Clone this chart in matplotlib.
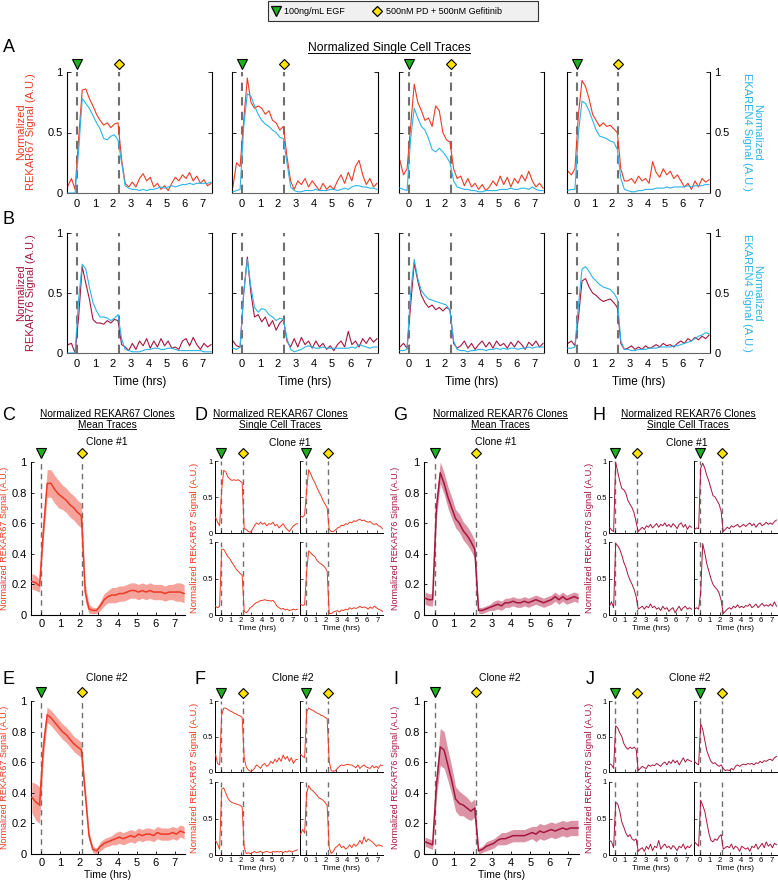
import numpy as np
import matplotlib
matplotlib.use('Agg')
import matplotlib.pyplot as plt
import matplotlib.transforms as mtransforms
from matplotlib.lines import Line2D
from matplotlib.patches import Rectangle

plt.rcParams['font.family'] = ['Liberation Sans', 'DejaVu Sans']

W, H = 778, 881

# sampling times (hrs), one point every 0.2 h
t = np.round(np.linspace(-0.5, 7.5, 41), 2)

EGF_T = 0.0
PD_T_A = 2.33   # inhibitor time in panels A/B
PD_T_C = 2.15   # inhibitor time in panels C-J

legend_labels = ['100ng/mL EGF', '500nM PD + 500nM Gefitinib']

# ---- A: REKAR67 (red) + EKAREN4 (cyan), single cells ----
a1_rekar67 = [0.06, 0.12, 0.03, 0.45, 0.85, 0.86, 0.78, 0.72, 0.65, 0.60, 0.56, 0.58, 0.54, 0.57, 0.58, 0.28, 0.08,
              0.05, 0.09, 0.05, 0.12, 0.16, 0.10, 0.13, 0.05, 0.08, 0.03, 0.06, 0.02, 0.08, 0.13, 0.10, 0.15, 0.12, 0.17, 0.10, 0.14, 0.08, 0.11, 0.06, 0.08]
a1_ekaren4 = [0.00, 0.00, 0.00, 0.35, 0.78, 0.74, 0.70, 0.64, 0.58, 0.53, 0.45, 0.44, 0.47, 0.48, 0.44, 0.25, 0.06,
              0.04, 0.03, 0.03, 0.02, 0.03, 0.02, 0.03, 0.03, 0.04, 0.05, 0.04, 0.05, 0.06, 0.05, 0.06, 0.07, 0.07, 0.08, 0.07, 0.08, 0.08, 0.08, 0.08, 0.09]
a2_rekar67 = [0.05, 0.25, 0.22, 0.60, 0.95, 0.75, 0.70, 0.72, 0.70, 0.65, 0.68, 0.60, 0.58, 0.52, 0.55, 0.30, 0.10,
              0.03, 0.10, 0.07, 0.12, 0.05, 0.10, 0.06, 0.02, 0.08, 0.03, 0.06, 0.03, 0.10, 0.15, 0.08, 0.17, 0.10, 0.22, 0.27, 0.15, 0.07, 0.12, 0.05, 0.08]
a2_ekaren4 = [0.01, 0.02, 0.03, 0.55, 0.82, 0.80, 0.72, 0.65, 0.60, 0.57, 0.55, 0.52, 0.50, 0.46, 0.45, 0.25, 0.05,
              0.02, 0.01, 0.01, 0.02, 0.02, 0.02, 0.03, 0.02, 0.02, 0.02, 0.03, 0.03, 0.02, 0.03, 0.04, 0.03, 0.05, 0.06, 0.06, 0.05, 0.05, 0.04, 0.04, 0.03]
a3_rekar67 = [0.27, 0.15, 0.20, 0.55, 0.90, 0.75, 0.68, 0.60, 0.62, 0.55, 0.72, 0.68, 0.50, 0.44, 0.42, 0.20, 0.12,
              0.14, 0.06, 0.12, 0.05, 0.08, 0.03, 0.07, 0.02, 0.05, 0.10, 0.06, 0.14, 0.07, 0.13, 0.05, 0.12, 0.08, 0.15, 0.10, 0.18, 0.10, 0.05, 0.08, 0.04]
a3_ekaren4 = [0.04, 0.03, 0.02, 0.45, 0.70, 0.62, 0.55, 0.52, 0.45, 0.36, 0.34, 0.37, 0.34, 0.30, 0.25, 0.10, 0.05,
              0.04, 0.03, 0.03, 0.02, 0.02, 0.01, 0.01, 0.02, 0.02, 0.02, 0.02, 0.03, 0.03, 0.03, 0.04, 0.03, 0.03, 0.04, 0.04, 0.03, 0.05, 0.03, 0.02, 0.02]
a4_rekar67 = [0.18, 0.15, 0.20, 0.65, 0.93, 0.88, 0.78, 0.65, 0.60, 0.55, 0.58, 0.55, 0.56, 0.53, 0.50, 0.20, 0.10,
              0.10, 0.12, 0.08, 0.14, 0.10, 0.12, 0.08, 0.26, 0.17, 0.13, 0.20, 0.15, 0.18, 0.12, 0.15, 0.10, 0.05, 0.08, 0.03, 0.10, 0.05, 0.12, 0.09, 0.11]
a4_ekaren4 = [0.02, 0.03, 0.03, 0.50, 0.76, 0.74, 0.68, 0.60, 0.52, 0.47, 0.46, 0.45, 0.43, 0.42, 0.36, 0.12, 0.03,
              0.02, 0.01, 0.01, 0.02, 0.02, 0.03, 0.03, 0.03, 0.04, 0.04, 0.04, 0.05, 0.04, 0.05, 0.05, 0.05, 0.05, 0.06, 0.05, 0.06, 0.06, 0.06, 0.07, 0.07]

# ---- B: REKAR76 (crimson) + EKAREN4 (cyan), single cells ----
b1_rekar76 = [0.07, 0.08, 0.00, 0.30, 0.72, 0.58, 0.45, 0.28, 0.25, 0.25, 0.24, 0.27, 0.25, 0.28, 0.27, 0.07, 0.05,
              0.02, 0.08, 0.03, 0.10, 0.06, 0.12, 0.04, 0.10, 0.05, 0.12, 0.06, 0.10, 0.04, 0.05, 0.03, 0.10, 0.12, 0.06, 0.13, 0.07, 0.03, 0.08, 0.05, 0.07]
b1_ekaren4 = [0.00, 0.00, 0.00, 0.45, 0.74, 0.70, 0.55, 0.42, 0.35, 0.30, 0.30, 0.29, 0.27, 0.29, 0.32, 0.12, 0.03,
              0.02, 0.01, 0.01, 0.01, 0.02, 0.03, 0.03, 0.04, 0.04, 0.03, 0.03, 0.04, 0.04, 0.03, 0.02, 0.02, 0.02, 0.02, 0.02, 0.02, 0.02, 0.01, 0.01, 0.01]
b2_rekar76 = [0.10, 0.06, 0.05, 0.50, 0.80, 0.50, 0.30, 0.32, 0.26, 0.30, 0.22, 0.27, 0.19, 0.25, 0.28, 0.10, 0.05,
              0.12, 0.05, 0.13, 0.07, 0.10, 0.04, 0.10, 0.05, 0.08, 0.03, 0.06, 0.02, 0.07, 0.10, 0.05, 0.18, 0.07, 0.10, 0.05, 0.12, 0.08, 0.13, 0.09, 0.12]
b2_ekaren4 = [0.04, 0.03, 0.05, 0.50, 0.78, 0.55, 0.38, 0.34, 0.37, 0.36, 0.32, 0.30, 0.27, 0.29, 0.28, 0.12, 0.03,
              0.01, 0.02, 0.03, 0.05, 0.06, 0.05, 0.04, 0.04, 0.05, 0.04, 0.04, 0.04, 0.04, 0.04, 0.04, 0.04, 0.05, 0.04, 0.07, 0.06, 0.05, 0.04, 0.05, 0.05]
b3_rekar76 = [0.05, 0.08, 0.04, 0.40, 0.75, 0.60, 0.48, 0.42, 0.38, 0.40, 0.36, 0.38, 0.35, 0.38, 0.36, 0.08, 0.04,
              0.06, 0.10, 0.04, 0.08, 0.03, 0.07, 0.10, 0.05, 0.09, 0.04, 0.10, 0.06, 0.08, 0.04, 0.09, 0.05, 0.10, 0.07, 0.03, 0.09, 0.06, 0.10, 0.05, 0.08]
b3_ekaren4 = [0.02, 0.02, 0.03, 0.50, 0.78, 0.62, 0.52, 0.48, 0.45, 0.44, 0.43, 0.42, 0.41, 0.40, 0.35, 0.10, 0.03,
              0.02, 0.02, 0.01, 0.02, 0.02, 0.03, 0.03, 0.02, 0.03, 0.03, 0.04, 0.03, 0.04, 0.03, 0.04, 0.04, 0.03, 0.04, 0.04, 0.05, 0.04, 0.05, 0.05, 0.05]
b4_rekar76 = [0.08, 0.10, 0.06, 0.30, 0.60, 0.62, 0.55, 0.50, 0.48, 0.45, 0.43, 0.44, 0.45, 0.42, 0.38, 0.08, 0.03,
              0.04, 0.06, 0.03, 0.05, 0.03, 0.06, 0.04, 0.05, 0.07, 0.05, 0.08, 0.06, 0.07, 0.05, 0.08, 0.10, 0.08, 0.12, 0.10, 0.13, 0.11, 0.14, 0.12, 0.15]
b4_ekaren4 = [0.04, 0.04, 0.05, 0.40, 0.70, 0.72, 0.68, 0.63, 0.60, 0.57, 0.55, 0.54, 0.53, 0.50, 0.45, 0.10, 0.03,
              0.03, 0.02, 0.02, 0.03, 0.03, 0.03, 0.04, 0.04, 0.04, 0.05, 0.05, 0.05, 0.05, 0.06, 0.06, 0.07, 0.08, 0.09, 0.10, 0.12, 0.14, 0.15, 0.17, 0.16]

# ---- C/E/G/I: clone mean traces and their spread ----
c_mean = [0.22, 0.21, 0.19, 0.55, 0.86, 0.86, 0.82, 0.79, 0.77, 0.75, 0.72, 0.70, 0.67, 0.65, 0.15, 0.04, 0.03,
          0.03, 0.06, 0.10, 0.12, 0.13, 0.13, 0.14, 0.14, 0.15, 0.16, 0.16, 0.15, 0.16, 0.15, 0.16, 0.15, 0.15, 0.15, 0.14, 0.15, 0.15, 0.15, 0.15, 0.14]
c_sd = [0.05, 0.05, 0.04, 0.06, 0.09, 0.09, 0.09, 0.09, 0.08, 0.08, 0.08, 0.08, 0.08, 0.08, 0.06, 0.03, 0.02,
        0.02, 0.03, 0.04, 0.04, 0.05, 0.05, 0.05, 0.05, 0.05, 0.05, 0.05, 0.05, 0.05, 0.05, 0.05, 0.05, 0.05, 0.05, 0.05, 0.05, 0.05, 0.06, 0.06, 0.06]
e_mean = [0.37, 0.34, 0.32, 0.70, 0.91, 0.89, 0.86, 0.83, 0.80, 0.78, 0.75, 0.72, 0.70, 0.68, 0.40, 0.12, 0.03,
          0.02, 0.05, 0.07, 0.08, 0.09, 0.10, 0.11, 0.10, 0.11, 0.12, 0.11, 0.13, 0.12, 0.13, 0.13, 0.12, 0.14, 0.13, 0.13, 0.13, 0.14, 0.13, 0.15, 0.14]
e_sd = [0.10, 0.12, 0.12, 0.08, 0.05, 0.05, 0.05, 0.05, 0.05, 0.05, 0.05, 0.05, 0.05, 0.05, 0.05, 0.03, 0.02,
        0.02, 0.03, 0.03, 0.03, 0.03, 0.04, 0.04, 0.04, 0.04, 0.04, 0.04, 0.04, 0.04, 0.04, 0.04, 0.04, 0.04, 0.04, 0.04, 0.04, 0.04, 0.04, 0.04, 0.04]
g_mean = [0.11, 0.10, 0.10, 0.70, 0.93, 0.86, 0.77, 0.70, 0.63, 0.60, 0.55, 0.52, 0.48, 0.43, 0.03, 0.03, 0.04,
          0.05, 0.06, 0.07, 0.06, 0.08, 0.08, 0.09, 0.08, 0.08, 0.09, 0.08, 0.09, 0.10, 0.09, 0.08, 0.09, 0.10, 0.12, 0.10, 0.12, 0.10, 0.11, 0.12, 0.11]
g_sd = [0.04, 0.04, 0.04, 0.07, 0.07, 0.07, 0.07, 0.07, 0.06, 0.06, 0.06, 0.06, 0.06, 0.06, 0.02, 0.02, 0.02,
        0.02, 0.03, 0.03, 0.03, 0.03, 0.03, 0.03, 0.03, 0.03, 0.03, 0.03, 0.03, 0.03, 0.03, 0.03, 0.03, 0.03, 0.03, 0.03, 0.03, 0.03, 0.03, 0.03, 0.03]
i_mean = [0.08, 0.07, 0.06, 0.45, 0.70, 0.68, 0.58, 0.48, 0.36, 0.33, 0.32, 0.30, 0.28, 0.30, 0.02, 0.03, 0.05,
          0.06, 0.07, 0.09, 0.10, 0.10, 0.11, 0.12, 0.12, 0.12, 0.12, 0.13, 0.14, 0.13, 0.15, 0.14, 0.15, 0.16, 0.15, 0.16, 0.17, 0.16, 0.17, 0.17, 0.17]
i_sd = [0.03, 0.03, 0.03, 0.08, 0.12, 0.12, 0.10, 0.09, 0.08, 0.08, 0.07, 0.07, 0.06, 0.06, 0.02, 0.02, 0.03,
        0.03, 0.03, 0.03, 0.04, 0.04, 0.04, 0.04, 0.04, 0.04, 0.04, 0.04, 0.04, 0.05, 0.05, 0.05, 0.05, 0.05, 0.05, 0.05, 0.05, 0.05, 0.05, 0.05, 0.05]

# ---- D/F/H/J: clone single cells (top-left, top-right, bottom-left, bottom-right) ----
d1 = [0.22, 0.15, 0.10, 0.60, 0.87, 0.85, 0.78, 0.75, 0.73, 0.74, 0.73, 0.74, 0.72, 0.70, 0.06, 0.05, 0.02,
      0.01, 0.05, 0.10, 0.14, 0.12, 0.15, 0.12, 0.14, 0.10, 0.13, 0.12, 0.15, 0.10, 0.12, 0.07, 0.10, 0.13, 0.08, 0.05, 0.02, 0.06, 0.10, 0.12, 0.13]
d2 = [0.24, 0.22, 0.25, 0.60, 0.88, 0.82, 0.75, 0.70, 0.63, 0.57, 0.52, 0.45, 0.40, 0.35, 0.05, 0.02, 0.02,
      0.04, 0.07, 0.08, 0.11, 0.10, 0.13, 0.12, 0.15, 0.14, 0.17, 0.16, 0.18, 0.19, 0.17, 0.18, 0.16, 0.15, 0.16, 0.13, 0.12, 0.13, 0.10, 0.09, 0.06]
d3 = [0.12, 0.10, 0.12, 0.90, 0.90, 0.85, 0.80, 0.77, 0.72, 0.68, 0.63, 0.60, 0.57, 0.55, 0.05, 0.03, 0.06,
      0.10, 0.12, 0.15, 0.17, 0.18, 0.20, 0.20, 0.21, 0.20, 0.20, 0.19, 0.20, 0.17, 0.12, 0.10, 0.08, 0.09, 0.07, 0.08, 0.06, 0.07, 0.08, 0.07, 0.08]
d4 = [0.15, 0.13, 0.14, 0.60, 0.88, 0.85, 0.82, 0.80, 0.75, 0.72, 0.70, 0.68, 0.65, 0.60, 0.02, 0.02, 0.04,
      0.05, 0.06, 0.04, 0.07, 0.06, 0.08, 0.07, 0.10, 0.08, 0.10, 0.09, 0.10, 0.12, 0.10, 0.11, 0.10, 0.08, 0.11, 0.09, 0.12, 0.10, 0.08, 0.07, 0.05]
f1 = [0.25, 0.12, 0.10, 0.80, 0.90, 0.90, 0.88, 0.86, 0.85, 0.83, 0.82, 0.80, 0.79, 0.77, 0.20, 0.07, 0.03,
      0.01, 0.02, 0.05, 0.10, 0.08, 0.05, 0.10, 0.12, 0.08, 0.10, 0.15, 0.12, 0.18, 0.14, 0.20, 0.15, 0.24, 0.18, 0.22, 0.15, 0.20, 0.12, 0.17, 0.18]
f2 = [0.25, 0.22, 0.20, 0.85, 0.90, 0.88, 0.87, 0.85, 0.83, 0.82, 0.80, 0.79, 0.77, 0.75, 0.15, 0.02, 0.01,
      0.02, 0.05, 0.08, 0.10, 0.09, 0.10, 0.11, 0.10, 0.10, 0.08, 0.06, 0.10, 0.05, 0.08, 0.10, 0.07, 0.06, 0.05, 0.09, 0.06, 0.08, 0.05, 0.10, 0.09]
f3 = [0.20, 0.15, 0.08, 0.90, 0.92, 0.85, 0.78, 0.74, 0.72, 0.71, 0.70, 0.69, 0.68, 0.66, 0.10, 0.02, 0.03,
      0.02, 0.03, 0.05, 0.03, 0.04, 0.05, 0.03, 0.04, 0.05, 0.04, 0.03, 0.05, 0.04, 0.05, 0.04, 0.05, 0.03, 0.05, 0.04, 0.06, 0.04, 0.05, 0.06, 0.07]
f4 = [0.28, 0.35, 0.30, 0.85, 0.95, 0.90, 0.88, 0.85, 0.82, 0.78, 0.77, 0.75, 0.72, 0.68, 0.10, 0.02, 0.05,
      0.10, 0.12, 0.15, 0.10, 0.12, 0.08, 0.10, 0.14, 0.10, 0.15, 0.12, 0.15, 0.20, 0.15, 0.25, 0.18, 0.22, 0.20, 0.18, 0.15, 0.12, 0.14, 0.13, 0.12]
h1 = [0.08, 0.04, 0.02, 0.98, 0.85, 0.72, 0.62, 0.60, 0.55, 0.45, 0.40, 0.35, 0.28, 0.15, 0.02, 0.05, 0.08,
      0.05, 0.10, 0.08, 0.12, 0.07, 0.10, 0.13, 0.08, 0.12, 0.10, 0.14, 0.09, 0.12, 0.08, 0.13, 0.10, 0.06, 0.12, 0.14, 0.08, 0.12, 0.05, 0.10, 0.08]
h2 = [0.05, 0.07, 0.06, 0.90, 0.97, 0.90, 0.80, 0.72, 0.62, 0.52, 0.50, 0.45, 0.40, 0.30, 0.02, 0.05, 0.08,
      0.06, 0.10, 0.08, 0.10, 0.12, 0.08, 0.10, 0.12, 0.09, 0.12, 0.14, 0.10, 0.13, 0.08, 0.12, 0.14, 0.10, 0.12, 0.15, 0.12, 0.14, 0.12, 0.16, 0.18]
h3 = [0.12, 0.18, 0.10, 0.98, 0.95, 0.90, 0.82, 0.72, 0.65, 0.55, 0.48, 0.42, 0.35, 0.25, 0.08, 0.10, 0.12,
      0.08, 0.12, 0.10, 0.15, 0.10, 0.12, 0.08, 0.10, 0.06, 0.12, 0.08, 0.10, 0.05, 0.08, 0.10, 0.03, 0.08, 0.12, 0.06, 0.10, 0.12, 0.08, 0.10, 0.08]
h4 = [0.08, 0.10, 0.08, 0.30, 0.98, 0.85, 0.70, 0.60, 0.50, 0.42, 0.38, 0.35, 0.30, 0.20, 0.02, 0.05, 0.08,
      0.10, 0.08, 0.12, 0.10, 0.14, 0.10, 0.12, 0.10, 0.13, 0.12, 0.15, 0.10, 0.12, 0.15, 0.10, 0.13, 0.16, 0.12, 0.14, 0.12, 0.15, 0.12, 0.18, 0.12]
j1 = [0.12, 0.10, 0.05, 0.65, 0.62, 0.55, 0.50, 0.40, 0.35, 0.32, 0.35, 0.33, 0.35, 0.32, 0.02, 0.05, 0.08,
      0.06, 0.05, 0.10, 0.08, 0.10, 0.09, 0.12, 0.10, 0.08, 0.12, 0.14, 0.10, 0.15, 0.12, 0.17, 0.13, 0.16, 0.10, 0.15, 0.20, 0.14, 0.18, 0.16, 0.15]
j2 = [0.15, 0.12, 0.10, 0.68, 0.60, 0.45, 0.30, 0.22, 0.15, 0.12, 0.13, 0.10, 0.08, 0.10, 0.05, 0.02, 0.03,
      0.02, 0.05, 0.03, 0.08, 0.10, 0.08, 0.10, 0.11, 0.10, 0.12, 0.11, 0.12, 0.10, 0.13, 0.12, 0.15, 0.13, 0.16, 0.15, 0.17, 0.18, 0.16, 0.20, 0.22]
j3 = [0.20, 0.18, 0.10, 0.72, 0.70, 0.60, 0.45, 0.38, 0.30, 0.25, 0.28, 0.22, 0.20, 0.22, 0.05, 0.08, 0.10,
      0.05, 0.12, 0.08, 0.15, 0.06, 0.12, 0.10, 0.20, 0.08, 0.12, 0.15, 0.10, 0.12, 0.08, 0.13, 0.10, 0.06, 0.12, 0.10, 0.15, 0.08, 0.12, 0.10, 0.14]
j4 = [0.18, 0.15, 0.12, 0.75, 0.68, 0.60, 0.45, 0.30, 0.20, 0.18, 0.22, 0.20, 0.25, 0.28, 0.08, 0.10, 0.12,
      0.10, 0.15, 0.08, 0.12, 0.10, 0.05, 0.12, 0.10, 0.08, 0.10, 0.05, 0.12, 0.10, 0.15, 0.08, 0.12, 0.16, 0.10, 0.18, 0.12, 0.15, 0.10, 0.16, 0.14]

RED = '#ec3b25'
CYAN = '#2bb5e8'
CRIMSON = '#a5173f'
RED_BAND = '#f6a39c'
CRIMSON_BAND = '#dc93a6'
DASH = '#707070'
GREEN = '#1fae1f'
YELLOW = '#ffe400'

LBL_67 = 'Normalized REKAR67 Signal (A.U.)'
LBL_76 = 'Normalized REKAR76 Signal (A.U.)'

fig = plt.figure(figsize=(W / 100, H / 100), dpi=100)
underlined = []


def px_axes(x0, y0, x1, y1):
    return fig.add_axes([x0 / W, 1 - y1 / H, (x1 - x0) / W, (y1 - y0) / H])


def ftext(x, y, s, **kw):
    return fig.text(x / W, 1 - y / H, s, **kw)


def trace_axes(x0, y0, x1, y1):
    ax = px_axes(x0, y0, x1, y1)
    ax.set_xlim(-0.55, 7.55)
    ax.set_ylim(0, 1)
    ax.set_xticks(range(8))
    ax.spines['top'].set_visible(False)
    ax.spines['right'].set_visible(False)
    for s in ax.spines.values():
        s.set_linewidth(0.8)
    return ax


def stim_lines(ax, pd_t, lw, dashes):
    for x in (EGF_T, pd_t):
        ax.axvline(x, color=DASH, lw=lw, ls=(0, dashes), zorder=1)


def add_markers(ax, pd_t, dy=6, ms=6.5):
    tr = mtransforms.blended_transform_factory(ax.transData, ax.transAxes)
    tr = mtransforms.offset_copy(tr, fig=fig, y=dy, units='points')
    ax.plot([EGF_T], [1], ls='none', marker='v', ms=ms, mfc=GREEN, mec='k', mew=0.8,
            transform=tr, clip_on=False)
    ax.plot([pd_t], [1], ls='none', marker='D', ms=ms * 0.75, mfc=YELLOW, mec='k', mew=0.8,
            transform=tr, clip_on=False)


# ---------------- legend box (MATLAB style, drawn by hand) ----------------
fig.add_artist(Rectangle((268 / W, 1 - 21 / H), 270 / W, 20 / H, transform=fig.transFigure,
                         facecolor='#f0f0f0', edgecolor='#333333', lw=0.8))
fig.add_artist(Line2D([276 / W], [1 - 11 / H], ls='none', marker='v', ms=7, mfc=GREEN, mec='k',
                      mew=0.9, transform=fig.transFigure))
fig.add_artist(Line2D([377 / W], [1 - 11 / H], ls='none', marker='D', ms=5.5, mfc=YELLOW, mec='k',
                      mew=0.9, transform=fig.transFigure))
ftext(284, 11, legend_labels[0], fontsize=6.5, va='center')
ftext(386, 11, legend_labels[1], fontsize=6.5, va='center')

# ---------------- A and B ----------------
col_x = [(67, 212), (232, 378), (399, 544), (567, 710)]
a_rekar67 = [a1_rekar67, a2_rekar67, a3_rekar67, a4_rekar67]
a_ekaren4 = [a1_ekaren4, a2_ekaren4, a3_ekaren4, a4_ekaren4]
b_rekar76 = [b1_rekar76, b2_rekar76, b3_rekar76, b4_rekar76]
b_ekaren4 = [b1_ekaren4, b2_ekaren4, b3_ekaren4, b4_ekaren4]

for row, (y0, y1, sensor, ekar, col) in enumerate([(72, 193, a_rekar67, a_ekaren4, RED),
                                                    (233, 353, b_rekar76, b_ekaren4, CRIMSON)]):
    for k, (x0, x1) in enumerate(col_x):
        ax = trace_axes(x0, y0, x1, y1)
        ax.spines['right'].set_visible(True)
        ax.spines['bottom'].set_color('#666666')
        stim_lines(ax, PD_T_A, 1.5, (4, 3))
        ax.plot(t, sensor[k], color=col, lw=0.8, zorder=2)
        ax.plot(t, ekar[k], color=CYAN, lw=0.8, zorder=3)
        ax.set_yticks([0, 0.5, 1])
        ax.set_yticklabels(['0', '0.5', '1'])
        ax.tick_params(direction='in', length=3, width=0.6, labelsize=8, right=True,
                       labelleft=(k == 0), labelright=(k == 3), pad=3)
        ax.tick_params(axis='x', length=0, pad=4)
        if row == 0:
            add_markers(ax, PD_T_A, dy=5.5, ms=6.5)
        else:
            ax.set_xlabel('Time (hrs)', fontsize=8.5, labelpad=5)

ftext(26, 132, 'Normalized\nREKAR67 Signal (A.U.)', rotation=90, color=RED, fontsize=8,
      ha='center', va='center', linespacing=1.0)
ftext(26, 293, 'Normalized\nREKAR76 Signal (A.U.)', rotation=90, color=CRIMSON, fontsize=8,
      ha='center', va='center', linespacing=1.0)
for yc in (132, 293):
    ftext(752, yc, 'Normalized\nEKAREN4 Signal (A.U.)', rotation=270, color=CYAN, fontsize=8,
          ha='center', va='center', linespacing=1.0)

underlined.append(ftext(389, 48, 'Normalized Single Cell Traces', fontsize=8.7, ha='center', va='center'))
ftext(3, 48, 'A', fontsize=13, va='center')
ftext(3, 219, 'B', fontsize=13, va='center')


# ---------------- C, E, G, I: mean traces ----------------
def mean_panel(x0, y0, x1, y1, mean, sd, col, band, ylabel, ylab_x, xlabel):
    ax = trace_axes(x0, y0, x1, y1)
    mean = np.array(mean)
    sd = np.array(sd)
    ax.fill_between(t, mean - sd, mean + sd, color=band, lw=0, zorder=1)
    stim_lines(ax, PD_T_C, 1.0, (4, 3))
    ax.plot(t, mean, color=col, lw=1.1, zorder=3)
    ax.set_yticks(np.arange(0, 1.01, 0.2))
    ax.set_yticklabels(['0', '0.2', '0.4', '0.6', '0.8', '1'])
    ax.tick_params(direction='in', length=2.5, width=0.6, labelsize=8, pad=3)
    add_markers(ax, PD_T_C, dy=6.5, ms=7)
    ftext(ylab_x, (y0 + y1) / 2, ylabel, rotation=90, color=col, fontsize=6.5,
          ha='center', va='center')
    if xlabel:
        ax.set_xlabel('Time (hrs)', fontsize=7.5, labelpad=1)
    return ax


mean_panel(31, 462, 185, 615, c_mean, c_sd, RED, RED_BAND, LBL_67, 5, False)
mean_panel(31, 701, 185, 854, e_mean, e_sd, RED, RED_BAND, LBL_67, 5, True)
mean_panel(424, 462, 579, 615, g_mean, g_sd, CRIMSON, CRIMSON_BAND, LBL_76, 396, False)
mean_panel(424, 701, 579, 854, i_mean, i_sd, CRIMSON, CRIMSON_BAND, LBL_76, 396, True)


# ---------------- D, F, H, J: single cell grids ----------------
def cell_grid(xs, ys, traces, col, ylabel, ylab_x):
    for r in range(2):
        for c in range(2):
            ax = trace_axes(xs[c][0], ys[r][0], xs[c][1], ys[r][1])
            stim_lines(ax, PD_T_C, 1.0, (4, 3))
            ax.plot(t, traces[2 * r + c], color=col, lw=0.7, zorder=3)
            ax.set_yticks([0, 0.5, 1])
            ax.set_yticklabels(['0', '0.5', '1'])
            ax.tick_params(direction='in', length=2, width=0.5, labelsize=5.5, pad=1.5,
                           labelleft=(c == 0), labelbottom=(r == 1))
            ax.spines['left'].set_linewidth(0.7)
            ax.spines['bottom'].set_linewidth(0.7)
            if r == 0:
                add_markers(ax, PD_T_C, dy=5.5, ms=7)
            else:
                ax.set_xlabel('Time (hrs)', fontsize=6, labelpad=1)
    yc = (ys[0][0] + ys[1][1]) / 2
    ftext(ylab_x, yc, ylabel, rotation=90, color=col, fontsize=6.8, ha='center', va='center')


xs_left = [(215, 298), (300, 383)]
xs_right = [(609, 692), (694, 777)]
ys_top = [(461, 533), (542, 615)]
ys_bot = [(701, 772), (782, 855)]
cell_grid(xs_left, ys_top, [d1, d2, d3, d4], RED, LBL_67, 195)
cell_grid(xs_left, ys_bot, [f1, f2, f3, f4], RED, LBL_67, 195)
cell_grid(xs_right, ys_top, [h1, h2, h3, h4], CRIMSON, LBL_76, 590)
cell_grid(xs_right, ys_bot, [j1, j2, j3, j4], CRIMSON, LBL_76, 590)

# ---------------- titles and panel letters ----------------
for xc, name in [(107, 'REKAR67'), (280, 'REKAR67'), (500, 'REKAR76'), (688, 'REKAR76')]:
    underlined.append(ftext(xc, 414, 'Normalized %s Clones' % name, fontsize=7.3, ha='center', va='center'))
for xc, sub in [(107, 'Mean Traces'), (280, 'Single Cell Traces'), (500, 'Mean Traces'),
                (688, 'Single Cell Traces')]:
    underlined.append(ftext(xc, 425, sub, fontsize=7.3, ha='center', va='center'))

for xc, yc, s in [(107, 442, 'Clone #1'), (290, 443, 'Clone #1'), (496, 442, 'Clone #1'), (687, 443, 'Clone #1'),
                  (107, 678, 'Clone #2'), (293, 678, 'Clone #2'), (500, 678, 'Clone #2'), (690, 678, 'Clone #2')]:
    ftext(xc, yc, s, fontsize=7.5, ha='center', va='center')

for x, y, s in [(2, 416, 'C'), (194, 416, 'D'), (393, 416, 'G'), (592, 416, 'H'),
                (2, 680, 'E'), (194, 680, 'F'), (393, 680, 'I'), (586, 680, 'J')]:
    ftext(x, y, s, fontsize=13, va='center')

# underline the title texts
fig.canvas.draw()
renderer = fig.canvas.get_renderer()
for txt in underlined:
    bb = txt.get_window_extent(renderer=renderer)
    fx0, fx1 = bb.x0 / fig.bbox.width, bb.x1 / fig.bbox.width
    fy = (bb.y0 + 1.0) / fig.bbox.height
    fig.add_artist(Line2D([fx0, fx1], [fy, fy], color='k', lw=0.7, transform=fig.transFigure))

fig.savefig('out.png', dpi=100)
